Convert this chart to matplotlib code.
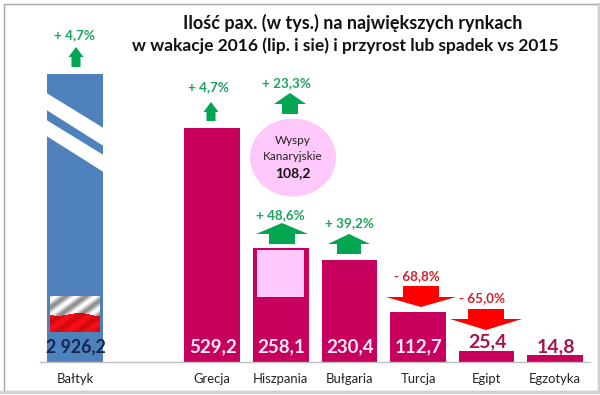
import numpy as np
import matplotlib
matplotlib.use("Agg")
import matplotlib.pyplot as plt
from matplotlib.patches import Polygon, Ellipse, Rectangle

plt.rcParams['font.family'] = ['Lato', 'DejaVu Sans']

categories = ["Bałtyk", "Grecja", "Hiszpania", "Bułgaria", "Turcja", "Egipt", "Egzotyka"]
slots = [0, 2, 3, 4, 5, 6, 7]
values = [2926.2, 529.2, 258.1, 230.4, 112.7, 25.4, 14.8]
value_labels = ["2 926,2", "529,2", "258,1", "230,4", "112,7", "25,4", "14,8"]
changes = ["+ 4,7%", "+ 4,7%", "+ 48,6%", "+ 39,2%", "- 68,8%", "- 65,0%", None]
canary_value = 108.2
canary_change = "+ 23,3%"
axis_break_cap = 652  # Baltic bar is drawn truncated (broken bar)

CRIMSON = "#C6005C"; BLUE = "#4F81BD"; PINK = "#FFC8FA"
GREEN = "#00A650"; GREENTXT = "#1FA35C"; RED = "#FF0000"; REDTXT = "#D6202A"

W, H = 600, 395
fig = plt.figure(figsize=(6, 3.95), dpi=100, facecolor="white")

bg = fig.add_axes([0, 0, 1, 1], zorder=0)
bg.set_xlim(0, W); bg.set_ylim(H, 0); bg.axis("off")
bg.add_patch(Rectangle((3.5, 3.5), 594, 387, fc="white", ec="#A6A6A6", lw=1))
bg.add_patch(Rectangle((0, 391), W, 4, fc="#D0D0D0", ec="none"))
bg.add_patch(Rectangle((598, 3), 2, 392, fc="#D0D0D0", ec="none"))
bg.add_patch(Rectangle((0, 394), W, 1, fc="white", ec="none"))

x0, x1, base = 40, 590, 362
top_px = 20
ax = fig.add_axes([x0 / W, 1 - base / H, (x1 - x0) / W, (base - top_px) / H], zorder=1)
ax.patch.set_alpha(0)
px_per_unit = 234 / 529.2
ax.set_ylim(0, (base - top_px) / px_per_unit)
ax.set_xlim(-0.51, 7.507)
for s in ["top", "left", "right"]:
    ax.spines[s].set_visible(False)
ax.spines["bottom"].set_color("#BFBFBF")
ax.spines["bottom"].set_linewidth(1)
ax.set_yticks([])
ax.set_xticks(slots)
ax.set_xticklabels(categories, fontsize=9.4, color="#222222")
ax.tick_params(axis="x", length=0, pad=8)

heights = [min(v, axis_break_cap) for v in values]
colors = [BLUE] + [CRIMSON] * 6
ax.bar(slots, heights, width=0.81, color=colors, zorder=2)
ax.bar(slots[2], canary_value, bottom=values[2] - 4 - canary_value, width=0.69, color=PINK, zorder=3)

label_cols = ["#17264F", "#FDEAF6", "#FDEAF6", "#FDEAF6", "#FDEAF6", "#A8134F", "#A8134F"]
label_y = [347, 347, 347, 347, 347, 342, 347]
label_sizes = [12.8, 13.5, 13.5, 13.5, 13.5, 14, 14]
ov = fig.add_axes([0, 0, 1, 1], zorder=2)
ov.set_xlim(0, W); ov.set_ylim(H, 0); ov.axis("off")

def px_x(slot):
    return ax.transData.transform((slot, 0))[0]

for s, lab, c, y, fs in zip(slots, value_labels, label_cols, label_y, label_sizes):
    ov.text(px_x(s) + 0.5, y, lab, ha="center", va="center", fontsize=fs, fontweight="bold", color=c)

bx0, bx1 = px_x(0) - 28.5, px_x(0) + 28.5
for a, b, c, d in [(93, 110, 128, 146), (120, 136, 155, 172)]:
    ov.add_patch(Polygon([(bx0, a), (bx1, c), (bx1, d), (bx0, b)], fc="white", ec="none"))

yy, xx = np.mgrid[0:36, 0:50]
wave = 17.5 + 1.6 * np.sin(xx / 50 * 2 * np.pi * 1.1 + 0.6) + xx * 0.02
shade = 0.78 + 0.22 * np.sin((xx * 1.1 + yy * 1.5) / 3.5)
white = np.stack([shade, shade, shade], -1)
red = np.stack([0.62 + 0.36 * shade, 0.06 * shade, 0.10 * shade], -1)
flag = np.where((yy < wave)[..., None], white, red)
ov.imshow(np.clip(flag, 0, 1), extent=(50, 100, 332, 296), aspect="auto", zorder=3, interpolation="bilinear")
ov.set_xlim(0, W); ov.set_ylim(H, 0)

def up(cx, tip, neck, bottom, hw, sw):
    ov.add_patch(Polygon([(cx, tip), (cx + hw, neck), (cx + sw, neck), (cx + sw, bottom),
                          (cx - sw, bottom), (cx - sw, neck), (cx - hw, neck)], fc=GREEN, ec="none"))

def down(cx, tip, neck, top, hw, sw):
    ov.add_patch(Polygon([(cx, tip), (cx + hw, neck), (cx + sw, neck), (cx + sw, top),
                          (cx - sw, top), (cx - sw, neck), (cx - hw, neck)], fc=RED, ec="none"))

up(76, 47, 57, 67, 7.5, 4.5)
up(211, 102, 112, 121, 7.5, 4.5)
up(290, 93, 104, 114, 16, 8)
up(282, 223, 234, 244, 26, 13)
up(349, 234, 244, 254, 21, 12)
down(421, 307, 297, 286, 35, 18)
down(486, 330, 319, 309, 36, 18)

change_pos = [(74, 35), (208, 87), (280, 215), (349, 223), (417, 276), (482, 298)]
for txt, (x, y) in zip([c for c in changes if c], change_pos):
    col = GREENTXT if txt.startswith("+") else REDTXT
    ov.text(x, y, txt, ha="center", va="center", fontsize=9.7, fontweight="bold", color=col)
ov.text(286, 83, canary_change, ha="center", va="center", fontsize=9.7, fontweight="bold", color=GREENTXT)

ov.add_patch(Ellipse((293, 157.5), 86, 78, fc=PINK, ec="none"))
ov.text(293, 140, "Wyspy", ha="center", va="center", fontsize=8.5, color="#222222")
ov.text(293, 156, "Kanaryjskie", ha="center", va="center", fontsize=8.5, color="#222222")
ov.text(293, 173, "108,2", ha="center", va="center", fontsize=10, fontweight="bold", color="#111111")

ov.text(353, 23, "Ilość pax. (w tys.) na największych rynkach", ha="center", va="center",
        fontsize=13, fontweight="bold", color="#111111")
ov.text(345, 46, "w wakacje 2016 (lip. i sie) i przyrost lub spadek vs 2015", ha="center", va="center",
        fontsize=12.5, fontweight="bold", color="#111111")

fig.savefig("out.png", dpi=100)
